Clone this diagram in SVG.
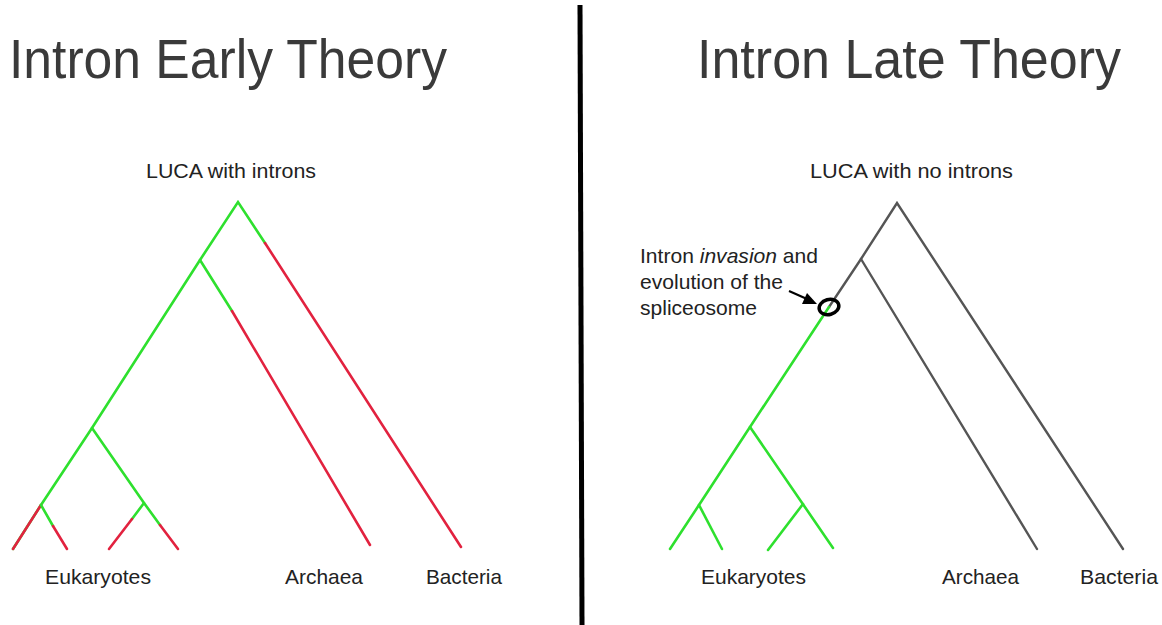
<svg xmlns="http://www.w3.org/2000/svg" width="1162" height="625" viewBox="0 0 1162 625">
<style>
text{font-family:"Liberation Sans",Arial,Helvetica,sans-serif;fill:#222}
.title{font-size:56px;fill:#3a3a3a}
.lbl{font-size:21px}
.g{stroke:#2ee02e;stroke-width:2.6;fill:none;stroke-linecap:round}
.r{stroke:#e2223f;stroke-width:2.6;fill:none;stroke-linecap:round}
.k{stroke:#555;stroke-width:2.4;fill:none;stroke-linecap:round}
</style>
<rect width="1162" height="625" fill="#fff"/>
<g id="divider"><line x1="580" y1="5" x2="582" y2="625" stroke="#000" stroke-width="5"/></g>
<g id="title-early"><text class="title" x="9" y="78" textLength="438" lengthAdjust="spacingAndGlyphs">Intron Early Theory</text></g>
<g id="title-late"><text class="title" x="697" y="78" textLength="424" lengthAdjust="spacingAndGlyphs">Intron Late Theory</text></g>
<g id="luca-early"><text class="lbl" x="146" y="178" textLength="170" lengthAdjust="spacingAndGlyphs">LUCA with introns</text></g>
<g id="luca-late"><text class="lbl" x="810" y="178" textLength="203" lengthAdjust="spacingAndGlyphs">LUCA with no introns</text></g>
<g id="euk-early"><text class="lbl" x="45" y="584" textLength="106" lengthAdjust="spacingAndGlyphs">Eukaryotes</text></g>
<g id="arch-early"><text class="lbl" x="285" y="584" textLength="78" lengthAdjust="spacingAndGlyphs">Archaea</text></g>
<g id="bact-early"><text class="lbl" x="426" y="584" textLength="76" lengthAdjust="spacingAndGlyphs">Bacteria</text></g>
<g id="euk-late"><text class="lbl" x="701" y="584" textLength="105" lengthAdjust="spacingAndGlyphs">Eukaryotes</text></g>
<g id="arch-late"><text class="lbl" x="942" y="584" textLength="77" lengthAdjust="spacingAndGlyphs">Archaea</text></g>
<g id="bact-late"><text class="lbl" x="1080" y="584" textLength="78" lengthAdjust="spacingAndGlyphs">Bacteria</text></g>
<g id="annotation">
<text class="lbl" x="640" y="263" textLength="178" lengthAdjust="spacingAndGlyphs">Intron <tspan font-style="italic">invasion</tspan> and</text>
<text class="lbl" x="640" y="289" textLength="143" lengthAdjust="spacingAndGlyphs">evolution of the</text>
<text class="lbl" x="640" y="315" textLength="117" lengthAdjust="spacingAndGlyphs">spliceosome</text>
</g>
<g id="connectors">
<path class="g" d="M13,549 L41,505 L92,428 L200,260 L238,202 L265,243"/>
<path class="r" d="M265,243 L461,547"/>
<path class="r" d="M41,505 L13,549"/>
<path class="g" d="M200,260 L232,311"/>
<path class="r" d="M232,311 L370,545"/>
<path class="g" d="M92,428 L144,503 L160,525"/>
<path class="r" d="M160,525 L178,549"/>
<path class="g" d="M144,503 L132,519"/>
<path class="r" d="M132,519 L109,549"/>
<path class="g" d="M41,505 L53,526"/>
<path class="r" d="M53,526 L67,549"/>
<path class="k" d="M829,307 L861,259 L897,203 L1123,549"/>
<path class="k" d="M861,259 L1037,549"/>
<path class="g" d="M829,307 L750,427 L699,505 L670,549"/>
<path class="g" d="M699,505 L722,549"/>
<path class="g" d="M750,427 L833,548"/>
<path class="g" d="M803,504 L768,550"/>
<ellipse cx="829" cy="307" rx="10" ry="7.5" fill="none" stroke="#000" stroke-width="3.5" transform="rotate(-15 829 307)"/>
<line x1="789" y1="291" x2="807" y2="299" stroke="#000" stroke-width="2.2"/>
<polygon points="817,304 802,304 807,293" fill="#000"/>
</g>
</svg>
